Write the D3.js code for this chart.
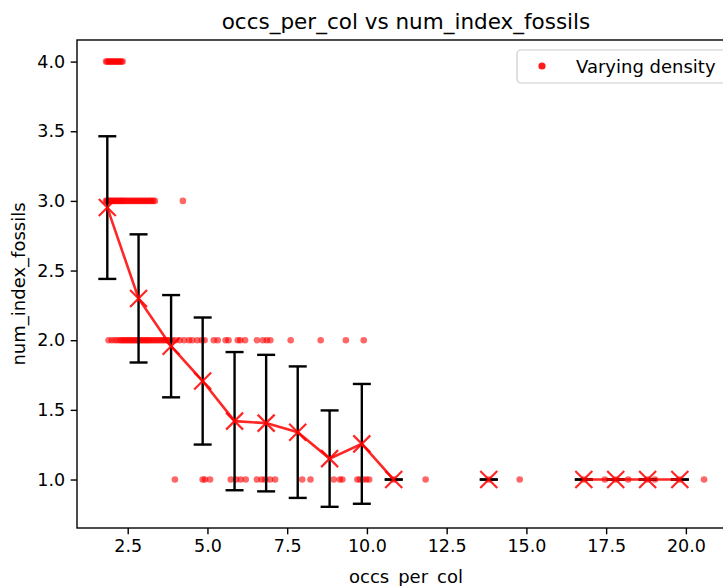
<!DOCTYPE html>
<html>
<head>
<meta charset="utf-8">
<script src="https://cdn.jsdelivr.net/npm/d3@7"></script>
<style>
  html, body { margin: 0; padding: 0; background: #fff; }
  svg { display: block; font-family: "DejaVu Sans", sans-serif; }
</style>
</head>
<body>
<svg id="chart" width="723" height="586"></svg>
<script>
// ---- Data ----
const title = "occs_per_col vs num_index_fossils";
const xLabel = "occs_per_col";
const yLabel = "num_index_fossils";
const legendLabel = "Varying density";

// scatter: occs_per_col values observed at each num_index_fossils level
const occsAtFossils4 = [1.82, 1.86, 1.9, 1.94, 1.98, 2.02, 2.06, 2.1, 2.14, 2.18, 2.22, 2.26, 2.3, 2.34];
const occsAtFossils3 = [1.82, 1.85, 1.88, 1.92, 1.96, 2.0, 2.04, 2.08, 2.12, 2.16, 2.2, 2.24, 2.28, 2.32, 2.36, 2.4,
  2.45, 2.5, 2.55, 2.6, 2.65, 2.7, 2.75, 2.8, 2.85, 2.9, 2.95, 3.0, 3.05, 3.1, 3.15, 3.2, 3.25, 3.3, 3.35, 4.23];
const occsAtFossils2 = [1.9, 2.0, 2.1, 2.18, 2.26, 2.31, 2.36, 2.41, 2.46, 2.51, 2.56, 2.61, 2.66, 2.71, 2.76, 2.81,
  2.86, 2.91, 2.96, 3.01, 3.06, 3.11, 3.16, 3.21, 3.27, 3.33, 3.39, 3.45, 3.51, 3.57, 3.63, 3.69, 3.75, 3.82, 3.9,
  4.0, 4.13, 4.27, 4.42, 4.52, 4.68, 4.82, 4.91, 5.2, 5.32, 5.57, 5.66, 5.95, 6.03, 6.18, 6.55, 6.74, 6.86, 6.97,
  7.61, 8.55, 9.34, 9.9];
const occsAtFossils1 = [3.98, 4.85, 4.92, 5.08, 5.73, 5.9, 6.04, 6.2, 6.55, 6.7, 6.81, 6.96, 7.12, 7.97, 8.23, 8.96,
  9.15, 9.23, 9.7, 9.78, 9.88, 9.98, 10.07, 10.84, 11.84, 13.82, 14.79, 16.8, 17.46, 17.8, 18.19, 18.8, 19.03,
  19.81, 20.57];

// binned means with standard deviation (null = empty bin)
const binCenters = [1.86, 2.84, 3.86, 4.85, 5.85, 6.84, 7.83, 8.83, 9.84, 10.84, 11.84, 12.84, 13.82, 14.82, 15.82, 16.8, 17.8, 18.8, 19.81];
const binMeans   = [2.952, 2.30, 1.957, 1.707, 1.419, 1.405, 1.34, 1.15, 1.256, 1.0, null, null, 1.0, null, null, 1.0, 1.0, 1.0, 1.0];
const binStds    = [0.512, 0.46, 0.367, 0.456, 0.496, 0.49, 0.472, 0.346, 0.43, 0, null, null, 0, null, null, 0, 0, 0, 0];

const xTicks = [2.5, 5.0, 7.5, 10.0, 12.5, 15.0, 17.5, 20.0];
const yTicks = [1.0, 1.5, 2.0, 2.5, 3.0, 3.5, 4.0];

// ---- Layout ----
const svg = d3.select("#chart");
const plot = { left: 77, top: 40, right: 735, bottom: 528 };
const x = d3.scaleLinear().domain([0.91, 21.54]).range([plot.left, plot.right]);
const y = d3.scaleLinear().domain([0.652, 4.155]).range([plot.bottom, plot.top]);

const points = [
  ...occsAtFossils4.map(v => ({ x: v, y: 4 })),
  ...occsAtFossils3.map(v => ({ x: v, y: 3 })),
  ...occsAtFossils2.map(v => ({ x: v, y: 2 })),
  ...occsAtFossils1.map(v => ({ x: v, y: 1 }))
];
const bins = binCenters.map((c, i) => ({ x: c, mean: binMeans[i], std: binStds[i] }));
const validBins = bins.filter(d => d.mean !== null);

// scatter
svg.append("g").selectAll("circle").data(points).join("circle")
  .attr("cx", d => x(d.x)).attr("cy", d => y(d.y)).attr("r", 3.3)
  .attr("fill", "#ff0000").attr("fill-opacity", 0.6);

// error bars
const eb = svg.append("g").attr("stroke", "#000").attr("stroke-width", 2.4).attr("fill", "none");
const cap = 9;
validBins.forEach(d => {
  if (d.std > 0) {
    eb.append("line").attr("x1", x(d.x)).attr("x2", x(d.x))
      .attr("y1", y(d.mean - d.std)).attr("y2", y(d.mean + d.std));
  }
  [d.mean - d.std, d.mean + d.std].forEach(v => {
    eb.append("line").attr("x1", x(d.x) - cap).attr("x2", x(d.x) + cap)
      .attr("y1", y(v)).attr("y2", y(v));
  });
});

// mean line
const line = d3.line().defined(d => d.mean !== null).x(d => x(d.x)).y(d => y(d.mean));
svg.append("path").datum(bins).attr("d", line)
  .attr("fill", "none").attr("stroke", "#ff0000").attr("stroke-opacity", 0.85).attr("stroke-width", 2.6);

// X markers
const m = 8.5;
const mk = svg.append("g").attr("stroke", "#ff0000").attr("stroke-opacity", 0.85).attr("stroke-width", 2.2);
validBins.forEach(d => {
  const cx = x(d.x), cy = y(d.mean);
  mk.append("path").attr("d", `M${cx - m},${cy - m}L${cx + m},${cy + m}M${cx - m},${cy + m}L${cx + m},${cy - m}`);
});

// axes
const xAxis = svg.append("g").attr("transform", `translate(0,${plot.bottom})`)
  .call(d3.axisBottom(x).tickValues(xTicks).tickFormat(d3.format(".1f")).tickSize(6.3).tickPadding(5.5).tickSizeOuter(0));
const yAxis = svg.append("g").attr("transform", `translate(${plot.left},0)`)
  .call(d3.axisLeft(y).tickValues(yTicks).tickFormat(d3.format(".1f")).tickSize(6.3).tickPadding(5.5).tickSizeOuter(0));
[xAxis, yAxis].forEach(a => {
  a.selectAll("text").attr("font-size", 17.5).attr("fill", "#000").attr("font-family", "DejaVu Sans, sans-serif");
  a.selectAll("line").attr("stroke", "#000").attr("stroke-width", 1.4);
  a.select(".domain").remove();
});

// spines
svg.append("rect").attr("x", plot.left).attr("y", plot.top)
  .attr("width", plot.right - plot.left).attr("height", plot.bottom - plot.top)
  .attr("fill", "none").attr("stroke", "#000").attr("stroke-width", 1.4);

// title & labels
svg.append("text").attr("x", (plot.left + plot.right) / 2).attr("y", 29)
  .attr("text-anchor", "middle").attr("font-size", 21.5).attr("fill", "#000").text(title);
svg.append("text").attr("x", (plot.left + plot.right) / 2).attr("y", 583)
  .attr("text-anchor", "middle").attr("font-size", 18).attr("fill", "#000").text(xLabel);
svg.append("text").attr("transform", `translate(25,${(plot.top + plot.bottom) / 2}) rotate(-90)`)
  .attr("text-anchor", "middle").attr("font-size", 18).attr("fill", "#000").text(yLabel);

// legend
const lg = svg.append("g");
lg.append("rect").attr("x", 517).attr("y", 50).attr("width", 230).attr("height", 33).attr("rx", 4)
  .attr("fill", "#fff").attr("fill-opacity", 0.8).attr("stroke", "#cccccc").attr("stroke-width", 1.2);
lg.append("circle").attr("cx", 542).attr("cy", 66).attr("r", 3.6).attr("fill", "#ff0000").attr("fill-opacity", 0.9);
lg.append("text").attr("x", 576).attr("y", 72.5).attr("font-size", 18).attr("fill", "#000").text(legendLabel);
</script>
</body>
</html>
